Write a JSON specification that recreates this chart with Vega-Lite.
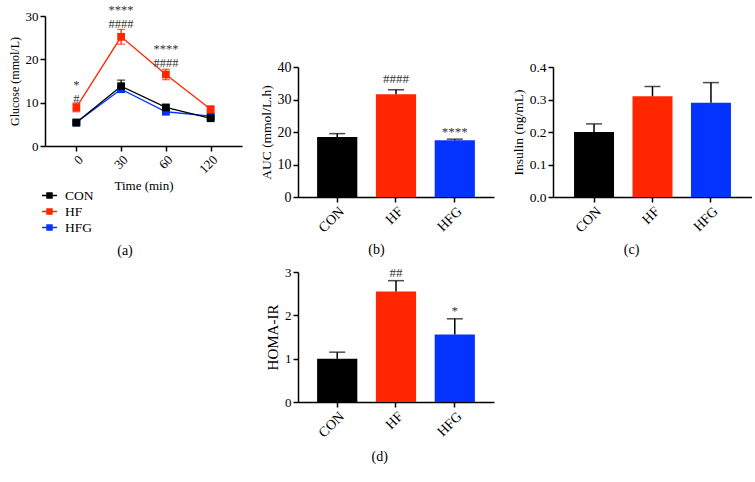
{
  "$schema": "https://vega.github.io/schema/vega-lite/v6.json",
  "background": "white",
  "padding": {"left": 8, "top": 3, "right": 0, "bottom": 0},
  "config": {
    "view": {"stroke": null},
    "font": "Liberation Serif",
    "style": {"guide-label": {"font": "Liberation Serif", "fill": "#000"}, "guide-title": {"font": "Liberation Serif", "fill": "#000", "fontWeight": "normal"}},
    "axis": {"domainColor": "#000", "domainWidth": 1.5, "tickColor": "#000", "tickWidth": 1.5, "tickSize": 5, "labelColor": "#000", "titleColor": "#000", "labelFont": "Liberation Serif", "titleFont": "Liberation Serif", "titleFontWeight": "normal", "grid": false, "labelPadding": 2},
    "legend": {"labelFont": "Liberation Serif", "titleFont": "Liberation Serif"},
    "title": {"font": "Liberation Serif", "fontWeight": "normal", "fontSize": 14, "color": "#000", "orient": "bottom", "anchor": "middle", "frame": "bounds"}
  },
  "resolve": {"scale": {"color": "independent"}, "legend": {"color": "independent"}},
  "spacing": 17,
  "hconcat": [
    {
      "width": 197,
      "height": 130,
      "title": {"text": "(a)", "offset": 10},
      "data": {"values": [
        {"group": "HFG", "time": "0", "mean": 5.4, "lo": 5.1, "hi": 5.7},
        {"group": "HFG", "time": "30", "mean": 13.1, "lo": 12.6, "hi": 13.6},
        {"group": "HFG", "time": "60", "mean": 7.9, "lo": 7.5, "hi": 8.3},
        {"group": "HFG", "time": "120", "mean": 6.9, "lo": 6.5, "hi": 7.3},
        {"group": "CON", "time": "0", "mean": 5.4, "lo": 5.1, "hi": 5.7},
        {"group": "CON", "time": "30", "mean": 13.8, "lo": 12.4, "hi": 15.2},
        {"group": "CON", "time": "60", "mean": 8.9, "lo": 8.4, "hi": 9.4},
        {"group": "CON", "time": "120", "mean": 6.4, "lo": 6.0, "hi": 6.8},
        {"group": "HF", "time": "0", "mean": 8.9, "lo": 7.9, "hi": 9.9},
        {"group": "HF", "time": "30", "mean": 25.2, "lo": 23.5, "hi": 26.9},
        {"group": "HF", "time": "60", "mean": 16.5, "lo": 15.3, "hi": 17.7},
        {"group": "HF", "time": "120", "mean": 8.5, "lo": 8.1, "hi": 8.9}
      ]},
      "encoding": {
        "x": {"field": "time", "type": "ordinal", "sort": ["0", "30", "60", "120"], "scale": {"type": "point", "padding": 0.7},
              "axis": {"title": "Time (min)", "labelAngle": -45, "labelFont": "Liberation Serif", "labelFontSize": 13, "titleFontSize": 13, "titlePadding": 4}}
      },
      "layer": [
        {"mark": {"type": "line", "strokeWidth": 1.3},
         "encoding": {
           "y": {"field": "mean", "type": "quantitative", "title": "Glucose (mmol/L)", "scale": {"domain": [0, 30]}, "axis": {"values": [0, 10, 20, 30], "labelFont": "Liberation Serif", "labelFontSize": 13, "titleFontSize": 12}},
           "color": {"field": "group", "type": "nominal", "scale": {"domain": ["CON", "HF", "HFG"], "range": ["#000000", "#ff2600", "#0433ff"]},
             "legend": {"title": null, "orient": "none", "legendX": -4, "legendY": 171, "direction": "vertical",
               "labelFont": "Liberation Serif", "labelFontSize": 13.5, "labelColor": "#000", "labelOffset": 7, "rowPadding": 1,
               "symbolType": "M-1,0H1M-0.33,-0.33H0.33V0.33H-0.33Z", "symbolSize": 225, "symbolStrokeWidth": 1.5,
               "encode": {"symbols": {"update": {
                 "stroke": {"signal": "datum.value === 'CON' ? '#000000' : datum.value === 'HF' ? '#ff2600' : '#0433ff'"},
                 "fill": {"signal": "datum.value === 'CON' ? '#000000' : datum.value === 'HF' ? '#ff2600' : '#0433ff'"},
                 "strokeWidth": {"value": 1.5}}},
                 "labels": {"update": {"font": {"value": "Liberation Serif"}, "fontWeight": {"value": "normal"}}}}}}
         }},
        {"mark": {"type": "rule", "strokeWidth": 1.3},
         "encoding": {
           "y": {"field": "lo", "type": "quantitative", "title": "Glucose (mmol/L)"},
           "y2": {"field": "hi"},
           "color": {"field": "group", "type": "nominal"}
         }},
        {"mark": {"type": "tick", "thickness": 1.3, "size": 8},
         "encoding": {
           "y": {"field": "hi", "type": "quantitative", "title": "Glucose (mmol/L)"},
           "color": {"field": "group", "type": "nominal"}
         }},
        {"mark": {"type": "tick", "thickness": 1.3, "size": 8},
         "encoding": {
           "y": {"field": "lo", "type": "quantitative", "title": "Glucose (mmol/L)"},
           "color": {"field": "group", "type": "nominal"}
         }},
        {"mark": {"type": "square", "filled": true, "size": 60, "opacity": 1},
         "encoding": {
           "y": {"field": "mean", "type": "quantitative", "title": "Glucose (mmol/L)"},
           "color": {"field": "group", "type": "nominal"}
         }},
        {"data": {"values": [
           {"time": "0", "y": 14.0, "label": "*"},
           {"time": "0", "y": 10.9, "label": "#"},
           {"time": "30", "y": 31.5, "label": "****"},
           {"time": "30", "y": 28.2, "label": "####"},
           {"time": "60", "y": 22.3, "label": "****"},
           {"time": "60", "y": 19.2, "label": "####"}
         ]},
         "mark": {"type": "text", "fontSize": 12.5, "color": "#333333", "baseline": "middle", "font": "Liberation Serif"},
         "encoding": {
           "y": {"field": "y", "type": "quantitative", "title": "Glucose (mmol/L)"},
           "text": {"field": "label"}
         }}
      ]
    },
    {
      "spacing": 9,
      "vconcat": [
        {"width": 10, "height": 35, "data": {"values": [{"a": 0}]}, "mark": {"type": "point", "opacity": 0}, "encoding": {}},
        {
          "width": 196,
          "height": 130,
          "title": {"text": "(b)", "offset": 8},
          "data": {"values": [
            {"group": "CON", "v": 18.5, "hi": 19.5},
            {"group": "HF", "v": 31.6, "hi": 33.0},
            {"group": "HFG", "v": 17.5, "hi": 17.8}
          ]},
          "encoding": {
            "x": {"field": "group", "type": "nominal", "sort": ["CON", "HF", "HFG"], "scale": {"paddingInner": 0.316, "paddingOuter": 0.325},
                  "axis": {"title": null, "labelAngle": -45, "labelFont": "Liberation Serif", "labelFontSize": 14}}
          },
          "layer": [
            {"mark": {"type": "bar"},
             "encoding": {
               "y": {"field": "v", "type": "quantitative", "title": "AUC (mmol/L.h)", "scale": {"domain": [0, 40]}, "axis": {"values": [0, 10, 20, 30, 40], "labelFont": "Liberation Serif", "labelFontSize": 14, "titleFontSize": 13.5}},
               "color": {"field": "group", "type": "nominal", "scale": {"domain": ["CON", "HF", "HFG"], "range": ["#000000", "#ff2600", "#0433ff"]}, "legend": null}
             }},
            {"mark": {"type": "rule", "strokeWidth": 1.5, "color": "#000"},
             "encoding": {"y": {"field": "v", "type": "quantitative", "title": "AUC (mmol/L.h)", "axis": {"values": [0, 10, 20, 30, 40], "labelFont": "Liberation Serif", "labelFontSize": 14, "titleFontSize": 13.5}}, "y2": {"field": "hi"}}},
            {"mark": {"type": "tick", "size": 16, "thickness": 1.5, "color": "#000"},
             "encoding": {"y": {"field": "hi", "type": "quantitative", "title": "AUC (mmol/L.h)", "axis": {"values": [0, 10, 20, 30, 40], "labelFont": "Liberation Serif", "labelFontSize": 14, "titleFontSize": 13.5}}}},
            {"data": {"values": [
               {"group": "HF", "ty": 36.3, "label": "####"},
               {"group": "HFG", "ty": 20.0, "label": "****"}
             ]},
             "mark": {"type": "text", "fontSize": 13, "color": "#333333", "baseline": "middle", "font": "Liberation Serif"},
             "encoding": {"y": {"field": "ty", "type": "quantitative", "title": "AUC (mmol/L.h)", "axis": {"values": [0, 10, 20, 30, 40], "labelFont": "Liberation Serif", "labelFontSize": 14, "titleFontSize": 13.5}}, "text": {"field": "label"}}}
          ]
        },
        {
          "width": 196,
          "height": 130,
          "title": {"text": "(d)", "offset": 10},
          "data": {"values": [
            {"group": "CON", "v": 1.0, "hi": 1.15},
            {"group": "HF", "v": 2.55, "hi": 2.8},
            {"group": "HFG", "v": 1.56, "hi": 1.92}
          ]},
          "encoding": {
            "x": {"field": "group", "type": "nominal", "sort": ["CON", "HF", "HFG"], "scale": {"paddingInner": 0.316, "paddingOuter": 0.325},
                  "axis": {"title": null, "labelAngle": -45, "labelFont": "Liberation Serif", "labelFontSize": 14}}
          },
          "layer": [
            {"mark": {"type": "bar"},
             "encoding": {
               "y": {"field": "v", "type": "quantitative", "title": "HOMA-IR", "scale": {"domain": [0, 3]}, "axis": {"values": [0, 1, 2, 3], "labelFont": "Liberation Serif", "labelFontSize": 13, "titleFontSize": 15}},
               "color": {"field": "group", "type": "nominal", "scale": {"domain": ["CON", "HF", "HFG"], "range": ["#000000", "#ff2600", "#0433ff"]}, "legend": null}
             }},
            {"mark": {"type": "rule", "strokeWidth": 1.5, "color": "#000"},
             "encoding": {"y": {"field": "v", "type": "quantitative", "title": "HOMA-IR", "axis": {"values": [0, 1, 2, 3], "labelFont": "Liberation Serif", "labelFontSize": 13, "titleFontSize": 15}}, "y2": {"field": "hi"}}},
            {"mark": {"type": "tick", "size": 16, "thickness": 1.5, "color": "#000"},
             "encoding": {"y": {"field": "hi", "type": "quantitative", "title": "HOMA-IR", "axis": {"values": [0, 1, 2, 3], "labelFont": "Liberation Serif", "labelFontSize": 13, "titleFontSize": 15}}}},
            {"data": {"values": [
               {"group": "HF", "ty": 2.98, "label": "##"},
               {"group": "HFG", "ty": 2.1, "label": "*"}
             ]},
             "mark": {"type": "text", "fontSize": 13, "color": "#333333", "baseline": "middle", "font": "Liberation Serif"},
             "encoding": {"y": {"field": "ty", "type": "quantitative", "title": "HOMA-IR", "axis": {"values": [0, 1, 2, 3], "labelFont": "Liberation Serif", "labelFontSize": 13, "titleFontSize": 15}}, "text": {"field": "label"}}}
          ]
        }
      ]
    },
    {
      "spacing": 9,
      "vconcat": [
        {"width": 10, "height": 35, "data": {"values": [{"a": 0}]}, "mark": {"type": "point", "opacity": 0}, "encoding": {}},
        {
          "width": 199,
          "height": 130,
          "title": {"text": "(c)", "offset": 8},
          "data": {"values": [
            {"group": "CON", "v": 0.2, "hi": 0.225},
            {"group": "HF", "v": 0.31, "hi": 0.34},
            {"group": "HFG", "v": 0.29, "hi": 0.352}
          ]},
          "encoding": {
            "x": {"field": "group", "type": "nominal", "sort": ["CON", "HF", "HFG"], "scale": {"paddingInner": 0.316, "paddingOuter": 0.36},
                  "axis": {"title": null, "labelAngle": -45, "labelFont": "Liberation Serif", "labelFontSize": 14}}
          },
          "layer": [
            {"mark": {"type": "bar"},
             "encoding": {
               "y": {"field": "v", "type": "quantitative", "title": "Insulin (ng/mL)", "scale": {"domain": [0, 0.4]}, "axis": {"values": [0, 0.1, 0.2, 0.3, 0.4], "format": ".1f", "labelFont": "Liberation Serif", "labelFontSize": 13.5, "titleFontSize": 13.5}},
               "color": {"field": "group", "type": "nominal", "scale": {"domain": ["CON", "HF", "HFG"], "range": ["#000000", "#ff2600", "#0433ff"]}, "legend": null}
             }},
            {"mark": {"type": "rule", "strokeWidth": 1.5, "color": "#000"},
             "encoding": {"y": {"field": "v", "type": "quantitative", "title": "Insulin (ng/mL)", "axis": {"values": [0, 0.1, 0.2, 0.3, 0.4], "format": ".1f", "labelFont": "Liberation Serif", "labelFontSize": 13.5, "titleFontSize": 13.5}}, "y2": {"field": "hi"}}},
            {"mark": {"type": "tick", "size": 16, "thickness": 1.5, "color": "#000"},
             "encoding": {"y": {"field": "hi", "type": "quantitative", "title": "Insulin (ng/mL)", "axis": {"values": [0, 0.1, 0.2, 0.3, 0.4], "format": ".1f", "labelFont": "Liberation Serif", "labelFontSize": 13.5, "titleFontSize": 13.5}}}}
          ]
        }
      ]
    }
  ]
}
